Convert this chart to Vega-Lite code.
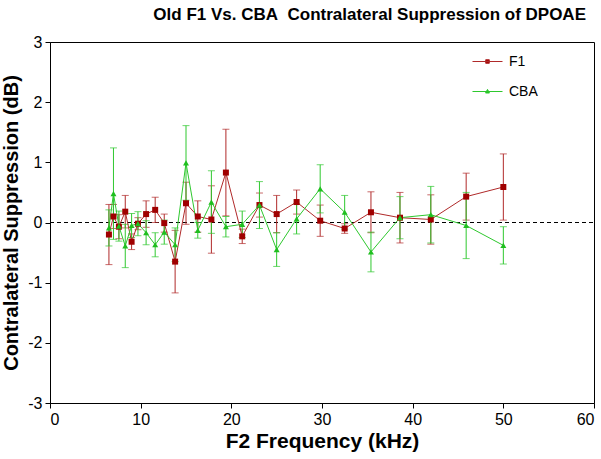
{
  "$schema": "https://vega.github.io/schema/vega-lite/v6.json",
  "width": 544,
  "height": 361,
  "autosize": {"type": "none"},
  "padding": {"left": 50, "top": 42, "right": 7, "bottom": 56},
  "background": "white",
  "config": {
    "font": "Liberation Sans",
    "view": {"stroke": "black", "strokeWidth": 1},
    "axis": {"grid": false, "domainColor": "black", "tickColor": "black", "labelColor": "black", "titleColor": "black", "labelFont": "Liberation Sans", "titleFont": "Liberation Sans", "labelFontSize": 16, "titleFontSize": 21, "titleFontWeight": "bold", "tickSize": 5}
  },
  "title": {"text": "Old F1 Vs. CBA\u00a0 Contralateral Suppression of DPOAE", "fontSize": 17, "fontWeight": "bold", "font": "Liberation Sans", "color": "black", "anchor": "end", "frame": "group", "dx": -8, "offset": 10},
  "data": {"values": [
    {"freq": 6.5, "supp": -0.2, "err": 0.5, "series": "F1"},
    {"freq": 7.0, "supp": 0.1, "err": 0.2, "series": "F1"},
    {"freq": 7.6, "supp": -0.07, "err": 0.2, "series": "F1"},
    {"freq": 8.3, "supp": 0.18, "err": 0.27, "series": "F1"},
    {"freq": 9.0, "supp": -0.32, "err": 0.13, "series": "F1"},
    {"freq": 9.7, "supp": -0.02, "err": 0.1, "series": "F1"},
    {"freq": 10.6, "supp": 0.14, "err": 0.22, "series": "F1"},
    {"freq": 11.6, "supp": 0.21, "err": 0.21, "series": "F1"},
    {"freq": 12.6, "supp": -0.01, "err": 0.15, "series": "F1"},
    {"freq": 13.8, "supp": -0.65, "err": 0.52, "series": "F1"},
    {"freq": 15.0, "supp": 0.32, "err": 0.35, "series": "F1"},
    {"freq": 16.3, "supp": 0.1, "err": 0.26, "series": "F1"},
    {"freq": 17.8, "supp": 0.05, "err": 0.56, "series": "F1"},
    {"freq": 19.4, "supp": 0.83, "err": 0.72, "series": "F1"},
    {"freq": 21.2, "supp": -0.23, "err": 0.12, "series": "F1"},
    {"freq": 23.1, "supp": 0.29, "err": 0.2, "series": "F1"},
    {"freq": 25.0, "supp": 0.14, "err": 0.31, "series": "F1"},
    {"freq": 27.2, "supp": 0.34, "err": 0.2, "series": "F1"},
    {"freq": 29.8, "supp": 0.03, "err": 0.26, "series": "F1"},
    {"freq": 32.5, "supp": -0.1, "err": 0.08, "series": "F1"},
    {"freq": 35.4, "supp": 0.17, "err": 0.34, "series": "F1"},
    {"freq": 38.6, "supp": 0.08, "err": 0.42, "series": "F1"},
    {"freq": 42.0, "supp": 0.05, "err": 0.41, "series": "F1"},
    {"freq": 45.9, "supp": 0.43, "err": 0.39, "series": "F1"},
    {"freq": 50.0, "supp": 0.59, "err": 0.55, "series": "F1"},
    {"freq": 6.5, "supp": -0.09, "err": 0.3, "series": "CBA"},
    {"freq": 7.0, "supp": 0.48, "err": 0.76, "series": "CBA"},
    {"freq": 7.6, "supp": -0.06, "err": 0.25, "series": "CBA"},
    {"freq": 8.3, "supp": -0.39, "err": 0.36, "series": "CBA"},
    {"freq": 9.0, "supp": -0.05, "err": 0.2, "series": "CBA"},
    {"freq": 9.7, "supp": -0.02, "err": 0.2, "series": "CBA"},
    {"freq": 10.6, "supp": -0.17, "err": 0.2, "series": "CBA"},
    {"freq": 11.6, "supp": -0.37, "err": 0.2, "series": "CBA"},
    {"freq": 12.6, "supp": -0.16, "err": 0.2, "series": "CBA"},
    {"freq": 13.8, "supp": -0.37, "err": 0.28, "series": "CBA"},
    {"freq": 15.0, "supp": 0.99, "err": 0.62, "series": "CBA"},
    {"freq": 16.3, "supp": -0.13, "err": 0.13, "series": "CBA"},
    {"freq": 17.8, "supp": 0.34, "err": 0.52, "series": "CBA"},
    {"freq": 19.4, "supp": -0.07, "err": 0.17, "series": "CBA"},
    {"freq": 21.2, "supp": -0.03, "err": 0.22, "series": "CBA"},
    {"freq": 23.1, "supp": 0.29, "err": 0.39, "series": "CBA"},
    {"freq": 25.0, "supp": -0.45, "err": 0.28, "series": "CBA"},
    {"freq": 27.2, "supp": 0.06, "err": 0.25, "series": "CBA"},
    {"freq": 29.8, "supp": 0.56, "err": 0.4, "series": "CBA"},
    {"freq": 32.5, "supp": 0.17, "err": 0.28, "series": "CBA"},
    {"freq": 35.4, "supp": -0.49, "err": 0.33, "series": "CBA"},
    {"freq": 38.6, "supp": 0.08, "err": 0.35, "series": "CBA"},
    {"freq": 42.0, "supp": 0.13, "err": 0.47, "series": "CBA"},
    {"freq": 45.9, "supp": -0.05, "err": 0.55, "series": "CBA"},
    {"freq": 50.0, "supp": -0.38, "err": 0.31, "series": "CBA"}
  ]},
  "encoding": {
    "x": {"field": "freq", "type": "quantitative", "scale": {"domain": [0, 60], "nice": false}, "axis": {"title": "F2 Frequency (kHz)", "values": [0, 10, 20, 30, 40, 50, 60], "titlePadding": 3, "labelPadding": 3}},
    "y": {"field": "supp", "type": "quantitative", "scale": {"domain": [-3, 3], "nice": false}, "axis": {"title": "Contralateral Suppression (dB)", "titleFontSize": 20, "values": [-3, -2, -1, 0, 1, 2, 3], "titlePadding": 6, "labelPadding": 3, "labelExpr": "datum.value < 0 ? '-' + abs(datum.value) : datum.label"}}
  },
  "layer": [
    {
      "mark": {"type": "rule", "color": "black", "strokeDash": [4, 3], "strokeWidth": 1},
      "encoding": {"x": {"datum": 0}, "x2": {"datum": 60}, "y": {"datum": 0}}
    },
    {
      "transform": [{"filter": "datum.series == 'F1'"}],
      "mark": {"type": "errorbar", "ticks": {"size": 7}, "thickness": 1, "color": "#b02a2a"},
      "encoding": {"yError": {"field": "err"}}
    },
    {
      "transform": [{"filter": "datum.series == 'CBA'"}],
      "mark": {"type": "errorbar", "ticks": {"size": 7}, "thickness": 1, "color": "#2ec82e"},
      "encoding": {"yError": {"field": "err"}}
    },
    {
      "mark": {"type": "line", "strokeWidth": 1},
      "encoding": {
        "color": {"field": "series", "type": "nominal", "scale": {"domain": ["F1", "CBA"], "range": ["#b02a2a", "#2ec82e"]},
          "legend": {"title": null, "orient": "none", "legendX": 422, "legendY": 4, "symbolSize": 900, "symbolStrokeWidth": 1, "rowPadding": 7, "labelOffset": 6, "labelFontSize": 14, "labelFont": "Liberation Sans", "labelColor": "black",
            "encode": {"symbols": {"update": {
              "shape": {"signal": "datum.value == 'F1' ? 'M-1,0H1M-0.12,-0.12H0.12V0.12H-0.12Z' : 'M-1,0H1M0,-0.14L0.13,0.1H-0.13Z'"},
              "fill": {"signal": "datum.value == 'F1' ? '#a00000' : '#1fbf1f'"},
              "stroke": {"signal": "datum.value == 'F1' ? '#b02a2a' : '#2ec82e'"}
            }}}}}
      }
    },
    {
      "transform": [{"filter": "datum.series == 'F1'"}],
      "mark": {"type": "point", "shape": "square", "filled": true, "size": 36, "opacity": 1, "color": "#a00000"}
    },
    {
      "transform": [{"filter": "datum.series == 'CBA'"}],
      "mark": {"type": "point", "shape": "triangle-up", "filled": true, "size": 36, "opacity": 1, "color": "#1fbf1f"}
    }
  ]
}
